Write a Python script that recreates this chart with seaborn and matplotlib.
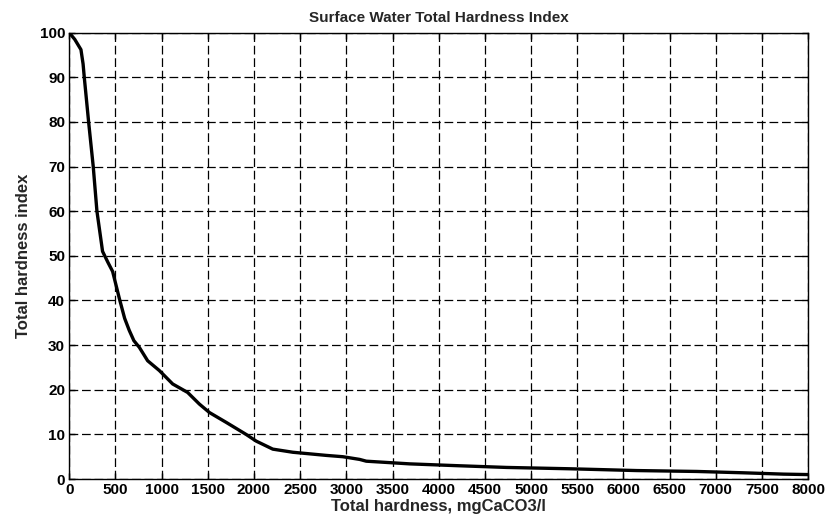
import matplotlib
matplotlib.use("Agg")
import matplotlib.pyplot as plt
import seaborn as sns
import pandas as pd

# Curve
hardness = [0, 60, 127, 150, 163, 210, 260, 300, 361, 420, 470, 542, 600, 650,
            700, 759, 849, 976, 1120, 1282, 1409, 1518, 1699, 1915, 2024, 2204,
            2421, 2782, 2963, 3144, 3216, 3686, 4192, 4734, 5420, 6143, 6794,
            7299, 7733, 8000]
index = [100, 98.5, 96.2, 93, 90, 80, 70, 60, 51, 48.5, 46.5, 40.5, 36, 33.3,
         31, 29.5, 26.5, 24.3, 21.3, 19.4, 16.8, 14.9, 12.7, 10.0, 8.5, 6.7,
         6.0, 5.3, 5.0, 4.4, 4.0, 3.4, 3.0, 2.6, 2.3, 1.9, 1.7, 1.4, 1.1, 1.0]

x_ticks = list(range(0, 8001, 500))
y_ticks = list(range(0, 101, 10))

df = pd.DataFrame({"hardness": hardness, "index": index})

sns.set_theme(style="white")
plt.rcParams["font.family"] = ["Liberation Sans", "DejaVu Sans"]

fig = plt.figure(figsize=(8.34, 5.27), dpi=100)
ax = fig.add_axes([0.083, 0.091, 0.886, 0.847])

sns.lineplot(data=df, x="hardness", y="index", color="black", linewidth=2.4,
             ax=ax, estimator=None, sort=False)

ax.set_xlim(0, 8000)
ax.set_ylim(0, 100)
ax.set_xticks(x_ticks)
ax.set_yticks(y_ticks)
ax.set_xticklabels([str(t) for t in x_ticks], fontsize=11, fontweight="bold")
ax.set_yticklabels([str(t) for t in y_ticks], fontsize=11, fontweight="bold")
ax.tick_params(direction="in", length=4, width=1, colors="black",
               top=True, right=True, bottom=True, left=True, pad=3)
ax.grid(True, color="black", linestyle=(0, (7, 3)), linewidth=0.9)

for spine in ax.spines.values():
    spine.set_color("black")
    spine.set_linewidth(1)

ax.set_title("Surface Water Total Hardness Index", fontsize=11,
             fontweight="bold", pad=8)
ax.set_xlabel("Total hardness, mgCaCO3/l", fontsize=12, fontweight="bold",
              labelpad=1)
ax.set_ylabel("Total hardness index", fontsize=12, fontweight="bold",
              labelpad=6)

fig.savefig("out.png", dpi=100)
